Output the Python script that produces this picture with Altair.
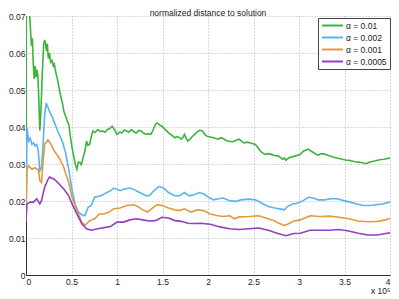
import altair as alt
import pandas as pd

series_names = ["α = 0.01", "α = 0.002", "α = 0.001", "α = 0.0005"]
series_colors = ["#3cb43c", "#5ab4f0", "#e39a3c", "#9240c0"]

x_ticks = [0, 0.5, 1, 1.5, 2, 2.5, 3, 3.5, 4]
y_ticks = [0, 0.01, 0.02, 0.03, 0.04, 0.05, 0.06, 0.07]

# alpha = 0.01 (green)
green_x = [0, 0.004, 0.03, 0.04, 0.05, 0.06, 0.07, 0.08, 0.09, 0.1, 0.11, 0.12, 0.13, 0.14, 0.152,
           0.165, 0.18, 0.195, 0.205, 0.215, 0.225, 0.235, 0.245, 0.258, 0.27, 0.285, 0.3, 0.311,
           0.33, 0.345, 0.364, 0.38, 0.395, 0.417, 0.435, 0.453, 0.47, 0.49, 0.506, 0.525, 0.541,
           0.559, 0.575, 0.594, 0.605, 0.612, 0.63, 0.647, 0.665, 0.68, 0.7, 0.718, 0.735, 0.76,
           0.788, 0.815, 0.841, 0.868, 0.894, 0.92, 0.947, 0.975, 1.0, 1.03, 1.053, 1.08, 1.106,
           1.13, 1.159, 1.185, 1.212, 1.24, 1.265, 1.29, 1.318, 1.345, 1.371, 1.39, 1.407, 1.425,
           1.442, 1.47, 1.495, 1.53, 1.566, 1.6, 1.636, 1.66, 1.689, 1.707, 1.725, 1.742, 1.76,
           1.778, 1.805, 1.831, 1.86, 1.884, 1.91, 1.937, 1.965, 1.99, 2.025, 2.06, 2.085, 2.113,
           2.14, 2.166, 2.19, 2.22, 2.245, 2.273, 2.31, 2.343, 2.37, 2.397, 2.43, 2.468, 2.495,
           2.521, 2.55, 2.574, 2.6, 2.627, 2.66, 2.697, 2.73, 2.768, 2.795, 2.821, 2.84, 2.856,
           2.88, 2.909, 2.935, 2.962, 2.99, 3.015, 3.033, 3.051, 3.08, 3.104, 3.13, 3.157, 3.185,
           3.21, 3.235, 3.263, 3.3, 3.333, 3.37, 3.404, 3.44, 3.475, 3.51, 3.545, 3.58, 3.616,
           3.65, 3.687, 3.715, 3.74, 3.765, 3.793, 3.83, 3.863, 3.9, 3.934, 3.97, 4.0]
green_y = [0.026, 0.08, 0.08, 0.071, 0.066, 0.062, 0.064, 0.057, 0.053, 0.0565, 0.0535, 0.0555, 0.054,
           0.048, 0.039, 0.045, 0.055, 0.0625, 0.0635, 0.0625, 0.0605, 0.0625, 0.0585, 0.060,
           0.0575, 0.058, 0.0565, 0.057, 0.0545, 0.053, 0.0505, 0.0485, 0.047, 0.0442, 0.043,
           0.0416, 0.0407, 0.037, 0.0344, 0.032, 0.030, 0.0286, 0.0305, 0.0304, 0.0298, 0.030,
           0.032, 0.0335, 0.0362, 0.035, 0.0354, 0.0375, 0.0389, 0.0385, 0.0393, 0.0388, 0.0389,
           0.0386, 0.0393, 0.0396, 0.0402, 0.0392, 0.038, 0.0386, 0.0384, 0.0392, 0.0389, 0.0386,
           0.0393, 0.0387, 0.0384, 0.0391, 0.0389, 0.0384, 0.038, 0.0382, 0.038, 0.0388, 0.0398,
           0.0408, 0.0411, 0.0405, 0.0402, 0.0393, 0.0384, 0.0378, 0.0371, 0.0374, 0.0371, 0.0367,
           0.0372, 0.038, 0.037, 0.0362, 0.0368, 0.0375, 0.0382, 0.0387, 0.0391, 0.039, 0.038,
           0.0375, 0.0373, 0.0371, 0.0369, 0.0367, 0.0371, 0.0369, 0.0365, 0.0362, 0.0361, 0.036,
           0.0364, 0.0367, 0.0361, 0.0357, 0.0359, 0.0357, 0.0355, 0.0353, 0.0344, 0.0335, 0.033,
           0.0326, 0.0328, 0.0326, 0.0323, 0.0322, 0.0318, 0.0313, 0.0316, 0.031, 0.0315, 0.0319,
           0.032, 0.0322, 0.0324, 0.0326, 0.0331, 0.0335, 0.0338, 0.034, 0.0335, 0.0331, 0.0327,
           0.0324, 0.0327, 0.0328, 0.0325, 0.0322, 0.0319, 0.0317, 0.0315, 0.0313, 0.0311, 0.031,
           0.0308, 0.0306, 0.0305, 0.0304, 0.0302, 0.0301, 0.0304, 0.0306, 0.0308, 0.031, 0.0312,
           0.0313, 0.0315, 0.0316]

# alpha = 0.002 (blue)
blue_x = [0, 0.011, 0.029, 0.046, 0.064, 0.082, 0.099, 0.117, 0.135, 0.152, 0.17, 0.188, 0.205,
          0.223, 0.258, 0.294, 0.347, 0.4, 0.435, 0.47, 0.506, 0.541, 0.576, 0.612, 0.647, 0.682,
          0.718, 0.753, 0.824, 0.859, 0.93, 0.965, 1.036, 1.071, 1.142, 1.177, 1.248, 1.318, 1.354,
          1.407, 1.46, 1.513, 1.566, 1.636, 1.689, 1.707, 1.742, 1.795, 1.848, 1.901, 1.954, 2.007,
          2.06, 2.113, 2.166, 2.238, 2.308, 2.361, 2.45, 2.521, 2.591, 2.662, 2.733, 2.803, 2.839,
          2.874, 2.927, 2.98, 3.033, 3.104, 3.157, 3.21, 3.28, 3.351, 3.422, 3.492, 3.563, 3.634,
          3.704, 3.775, 3.846, 3.916, 4.0]
blue_y = [0.0147, 0.0398, 0.0362, 0.037, 0.0353, 0.0357, 0.0349, 0.0353, 0.0335, 0.0282, 0.029,
          0.0353, 0.0434, 0.0465, 0.0442, 0.0424, 0.039, 0.036, 0.033, 0.0285, 0.023, 0.019, 0.017,
          0.0163, 0.016, 0.0183, 0.0188, 0.021, 0.0214, 0.0219, 0.0228, 0.0235, 0.0228, 0.0232,
          0.0235, 0.0232, 0.0223, 0.0214, 0.0214, 0.0228, 0.0239, 0.0235, 0.0223, 0.0214, 0.0214,
          0.0217, 0.0223, 0.0214, 0.0217, 0.0223, 0.0219, 0.021, 0.0203, 0.0206, 0.0208, 0.0201,
          0.0199, 0.0203, 0.0205, 0.0203, 0.0194, 0.0185, 0.0181, 0.0178, 0.0176, 0.0185, 0.0192,
          0.0194, 0.0199, 0.021, 0.0208, 0.0203, 0.0203, 0.0206, 0.0206, 0.0201, 0.0197, 0.0192,
          0.0188, 0.0188, 0.019, 0.0192, 0.0197]

# alpha = 0.001 (orange)
orange_x = [0, 0.011, 0.029, 0.064, 0.099, 0.117, 0.135, 0.152, 0.17, 0.188, 0.205, 0.241, 0.276,
            0.311, 0.364, 0.417, 0.435, 0.47, 0.506, 0.559, 0.612, 0.647, 0.7, 0.753, 0.806, 0.859,
            0.912, 0.965, 1.036, 1.106, 1.177, 1.23, 1.283, 1.336, 1.389, 1.442, 1.495, 1.566, 1.636,
            1.689, 1.742, 1.813, 1.884, 1.954, 2.025, 2.097, 2.166, 2.238, 2.291, 2.343, 2.45,
            2.556, 2.662, 2.733, 2.768, 2.839, 2.874, 2.945, 3.015, 3.121, 3.227, 3.333, 3.439,
            3.545, 3.651, 3.757, 3.863, 3.952, 4.0]
orange_y = [0.0147, 0.0286, 0.0295, 0.0286, 0.029, 0.0286, 0.0286, 0.0255, 0.025, 0.0308, 0.0353,
            0.0365, 0.0353, 0.0335, 0.0317, 0.029, 0.0275, 0.025, 0.021, 0.0174, 0.0143, 0.0134,
            0.0147, 0.0152, 0.0165, 0.0165, 0.017, 0.0179, 0.0181, 0.0188, 0.019, 0.0185, 0.0176,
            0.017, 0.0181, 0.019, 0.0188, 0.0181, 0.0176, 0.0174, 0.0179, 0.017, 0.0176, 0.0174,
            0.0165, 0.0161, 0.0158, 0.016, 0.0152, 0.0157, 0.0158, 0.016, 0.0152, 0.0146, 0.0141,
            0.0134, 0.0137, 0.0146, 0.0149, 0.016, 0.0158, 0.0159, 0.0156, 0.0152, 0.0146, 0.0144,
            0.0145, 0.0149, 0.0153]

# alpha = 0.0005 (purple)
purple_x = [0, 0.011, 0.046, 0.082, 0.117, 0.152, 0.17, 0.205, 0.241, 0.258, 0.311, 0.364, 0.417,
            0.47, 0.506, 0.559, 0.612, 0.664, 0.718, 0.788, 0.859, 0.93, 1.0, 1.071, 1.142, 1.212,
            1.283, 1.354, 1.424, 1.495, 1.566, 1.636, 1.707, 1.778, 1.848, 1.919, 2.025, 2.131,
            2.238, 2.343, 2.45, 2.556, 2.662, 2.768, 2.856, 2.945, 3.015, 3.121, 3.227, 3.333,
            3.439, 3.545, 3.651, 3.757, 3.863, 3.952, 4.0]
purple_y = [0.0147, 0.0192, 0.0197, 0.0197, 0.0206, 0.0192, 0.0201, 0.0237, 0.0258, 0.0265, 0.0259,
            0.0246, 0.0232, 0.0214, 0.0192, 0.0165, 0.0139, 0.0125, 0.0121, 0.0125, 0.0128, 0.0131,
            0.0143, 0.0143, 0.0149, 0.0152, 0.0149, 0.0146, 0.0147, 0.0156, 0.0154, 0.0147, 0.0145,
            0.014, 0.0139, 0.014, 0.0137, 0.013, 0.0125, 0.0123, 0.0125, 0.0127, 0.0121, 0.0112,
            0.0106, 0.0112, 0.0113, 0.0121, 0.0121, 0.0121, 0.0123, 0.0119, 0.0113, 0.0108, 0.0108,
            0.0112, 0.0114]

frames = []
for name, xs, ys in zip(series_names,
                        [green_x, blue_x, orange_x, purple_x],
                        [green_y, blue_y, orange_y, purple_y]):
    frames.append(pd.DataFrame({"x": xs, "y": ys, "series": name, "order": list(range(len(xs)))}))
df = pd.concat(frames, ignore_index=True)

FONT = "Liberation Sans"

chart = alt.Chart(df).mark_line(clip=True, strokeWidth=1.6).encode(
    x=alt.X("x:Q",
            scale=alt.Scale(domain=[0, 4], nice=False, zero=False),
            axis=alt.Axis(values=x_ticks, format="~g", title="x 10⁵",
                          titleAnchor="end", titleFontSize=8.5, titleFontWeight="normal",
                          titleFont=FONT, titleColor="#222", titlePadding=1,
                          labelPadding=2)),
    y=alt.Y("y:Q",
            scale=alt.Scale(domain=[0, 0.07], nice=False),
            axis=alt.Axis(values=y_ticks, format=".2~f", title=None, labelPadding=1)),
    color=alt.Color("series:N",
                    scale=alt.Scale(domain=series_names, range=series_colors),
                    legend=alt.Legend(title=None, orient="none", legendX=292, legendY=2,
                                      fillColor="white", strokeColor="#444", padding=3,
                                      symbolType="M-1,0H5", symbolSize=49, symbolStrokeWidth=2,
                                      labelFont=FONT, labelFontSize=8.5, labelColor="#222",
                                      labelOffset=16, rowPadding=3)),
    order="order:Q",
).properties(
    width=364,
    height=259,
    title=alt.TitleParams("normalized distance to solution", fontSize=8.5, font=FONT,
                          fontWeight="normal", color="#222", anchor="middle", offset=0,
                          dy=5),
    padding={"left": 18, "top": 8, "right": 1, "bottom": 23},
    autosize=alt.AutoSizeParams(type="none"),
).configure_view(
    stroke=None
).configure_axis(
    grid=True, gridDash=[1, 2], gridColor="#b5b5b5", gridWidth=1,
    domainColor="#333", domainWidth=1, ticks=False,
    labelFont=FONT, labelFontSize=8.5, labelColor="#222"
)

chart.save("out.html", embed_options={"renderer": "svg", "actions": False})
